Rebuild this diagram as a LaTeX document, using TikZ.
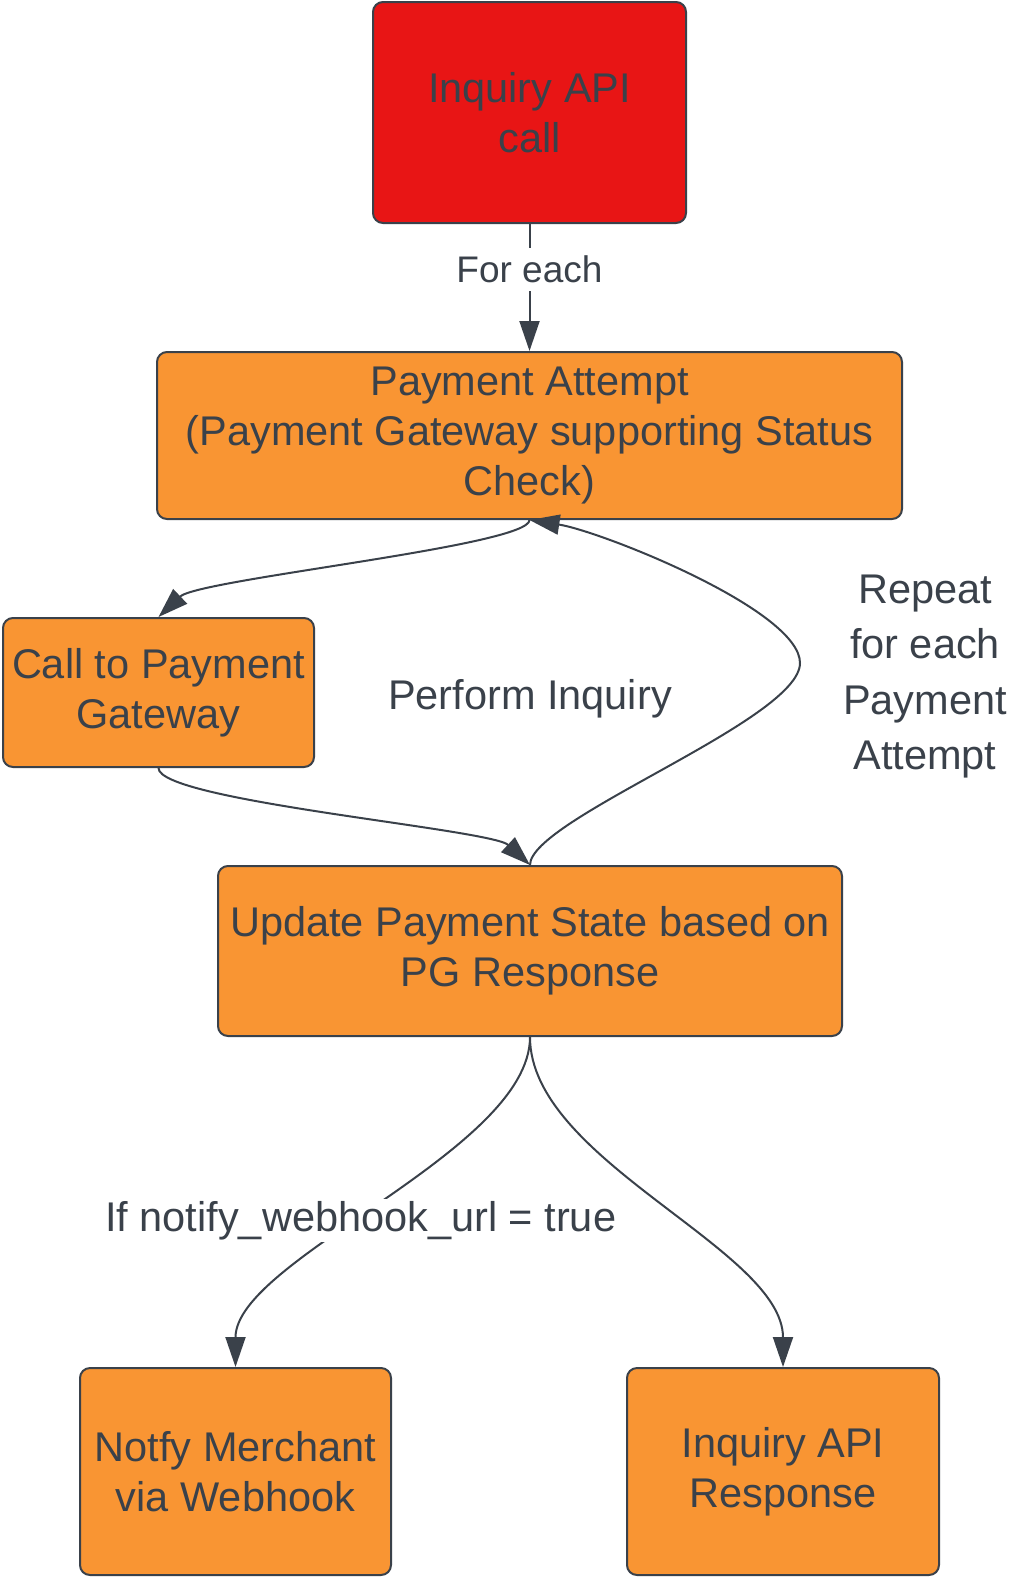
\documentclass[tikz,border=0pt]{standalone}
\usepackage{fontspec}
\setmainfont{Liberation Sans}
\usetikzlibrary{arrows.meta}
\definecolor{ink}{HTML}{3A414A}
\definecolor{boxorange}{HTML}{F99533}
\definecolor{boxred}{HTML}{E81515}
\tikzset{
  box/.style={draw=ink,line width=2pt,rounded corners=10pt,fill=boxorange,text=ink,align=center,inner sep=0pt},
  conn/.style={draw=ink,line width=2pt,->},
  lbl/.style={fill=white,text=ink,inner sep=2pt,align=center}
}
\begin{document}
\begin{tikzpicture}[x=1pt,y=-1pt,>={Triangle[length=30pt,width=20pt]},line join=round,
  font=\fontsize{41.5}{50}\selectfont]
\useasboundingbox (0,0) rectangle (1013,1577);

\node[box,fill=boxred,minimum width=313pt,minimum height=221pt] (call) at (529.5,112.5) {Inquiry API\\call};
\node[box,minimum width=745pt,minimum height=167pt] (pa) at (529.5,435.5) {Payment Attempt\\(Payment Gateway supporting Status\\Check)};
\node[box,minimum width=311pt,minimum height=149pt] (cpg) at (158.5,692.5) {Call to Payment\\Gateway};
\node[box,minimum width=624pt,minimum height=170pt] (upd) at (530,951) {Update Payment State based on\\PG Response};
\node[box,minimum width=311pt,minimum height=207pt] (nm) at (235.5,1471.5) {Notfy Merchant\\via Webhook};
\node[box,minimum width=312pt,minimum height=207pt] (iar) at (783,1471.5) {Inquiry API\\Response};

\node[text=ink] (perform) at (530,699) {Perform Inquiry};
\node[text=ink,align=center,font=\fontsize{41.5}{55.3}\selectfont] (repeat) at (925,676.5) {Repeat\\for each\\Payment\\Attempt};
\coordinate (bend) at (800,663);

\draw[conn] (call.south) -- (pa.north) node[lbl,pos=0.36,inner ysep=8pt,font=\fontsize{37}{44}\selectfont] {For each};
\draw[conn] (pa.south) .. controls +(0,26) and +(40,-38) .. (cpg.north);
\draw[conn] (cpg.south) .. controls +(0,33) and +(-39,-36) .. (upd.north);
\draw[conn] (upd.north) .. controls +(0,-46) and +(0,57) .. (bend)
  .. controls +(0,-53) and +(71,11) .. (pa.south);
\draw[conn] (upd.south) .. controls +(0,114) and +(0,-108) .. (nm.north)
  node[lbl,pos=0.55] {If notify\_webhook\_url = true};
\draw[conn] (upd.south) .. controls +(0,124) and +(0,-118) .. (iar.north);
\end{tikzpicture}
\end{document}
